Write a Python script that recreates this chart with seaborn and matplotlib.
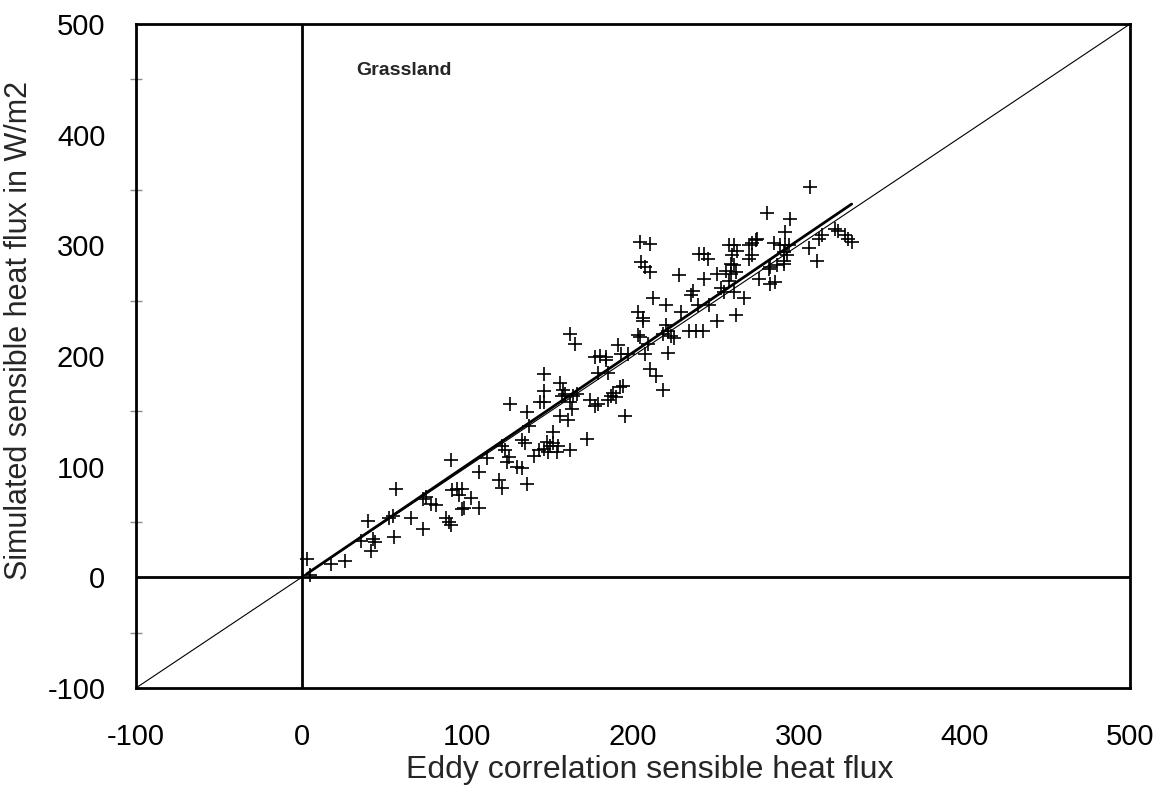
import matplotlib
matplotlib.use("Agg")
import matplotlib.pyplot as plt
from matplotlib.ticker import MultipleLocator
import numpy as np
import seaborn as sns

# Eddy correlation (measured) vs simulated sensible heat flux, W/m2
eddy_flux = [
    3, 5, 18, 26, 36, 43, 44, 42, 40, 53, 55, 56, 57, 66, 73, 73, 75, 78, 81, 87,
    89, 90, 90, 91, 94, 97, 95, 97, 102, 98, 107, 107, 112, 119, 121, 121, 123, 125, 124, 130,
    133, 136, 133, 135, 137, 126, 136, 144, 146, 140, 143, 146, 148, 149, 150, 152, 152, 154, 155, 162,
    146, 146, 156, 158, 157, 159, 162, 164, 166, 163, 156, 161, 162, 165, 172, 174, 177, 179, 185, 187,
    190, 188, 192, 194, 195, 179, 185, 177, 180, 184, 184, 191, 193, 197, 203, 204, 209, 207, 210, 214,
    218, 221, 220, 221, 223, 225, 218, 206, 204, 210, 205, 207, 210, 212, 220, 203, 206, 240, 243, 245,
    228, 243, 236, 235, 251, 256, 259, 262, 258, 253, 255, 261, 267, 239, 246, 229, 234, 238, 242, 251,
    262, 258, 261, 263, 260, 259, 261, 270, 272, 274, 275, 272, 270, 276, 282, 283, 286, 285, 307, 281,
    295, 292, 289, 292, 294, 291, 293, 283, 287, 291, 291, 306, 312, 314, 311, 322, 324, 328, 330, 332,
]
simulated_flux = [
    17, 2, 12, 15, 33, 35, 32, 24, 51, 54, 55, 36, 80, 54, 44, 71, 73, 66, 65, 54,
    50, 47, 106, 79, 80, 80, 74, 62, 72, 63, 63, 95, 108, 88, 81, 119, 115, 109, 104, 100,
    99, 84, 124, 121, 137, 157, 149, 158, 168, 110, 115, 116, 122, 113, 119, 121, 131, 113, 119, 115,
    184, 158, 176, 169, 164, 166, 158, 164, 166, 152, 146, 142, 220, 211, 125, 160, 155, 157, 160, 164,
    163, 167, 172, 173, 146, 185, 185, 199, 200, 199, 196, 210, 202, 202, 219, 217, 211, 202, 188, 182,
    169, 203, 228, 223, 218, 216, 220, 232, 303, 301, 285, 280, 276, 252, 246, 240, 234, 292, 292, 288,
    273, 270, 259, 255, 274, 277, 274, 276, 268, 261, 258, 258, 252, 246, 246, 240, 223, 223, 223, 232,
    237, 300, 300, 295, 291, 283, 282, 300, 302, 305, 306, 291, 288, 270, 279, 265, 267, 302, 353, 329,
    324, 312, 300, 300, 300, 294, 291, 280, 282, 286, 283, 298, 306, 309, 286, 315, 313, 309, 306, 303,
]

axis_ticks = [-100, 0, 100, 200, 300, 400, 500]
site_label = "Grassland"

sns.set_theme(style="white")
plt.rcParams["font.family"] = ["Liberation Sans", "DejaVu Sans"]
plt.rcParams["axes.unicode_minus"] = False

fig = plt.figure(figsize=(11.61, 7.95), dpi=100)
ax = fig.add_axes([0.1171, 0.1346, 0.8562, 0.8352])

# 1:1 reference line
sns.lineplot(x=[-100, 500], y=[-100, 500], ax=ax, color="black", lw=0.8, zorder=1)
# zero axes
ax.axhline(0, color="black", lw=2, zorder=1)
ax.axvline(0, color="black", lw=2, zorder=1)

# least-squares fit through the origin, drawn over the measured range
xs = np.asarray(eddy_flux, dtype=float)
ys = np.asarray(simulated_flux, dtype=float)
slope = float(np.sum(xs * ys) / np.sum(xs * xs))
fit_x = np.array([xs.min(), xs.max()])
sns.lineplot(x=fit_x, y=slope * fit_x, ax=ax, color="black", lw=2, zorder=2)

sns.scatterplot(x=eddy_flux, y=simulated_flux, ax=ax, marker="+", color="black",
                s=110, linewidth=1.2, zorder=3)

ax.set_xlim(-100, 500)
ax.set_ylim(-100, 500)
ax.set_xticks(axis_ticks)
ax.set_yticks(axis_ticks)
ax.yaxis.set_minor_locator(MultipleLocator(50))

for side in ax.spines.values():
    side.set_visible(True)
    side.set_color("black")
    side.set_linewidth(2)

ax.tick_params(axis="both", which="major", direction="inout", length=14, width=1,
               color="#8c8c8c", labelsize=21, labelcolor="black")
ax.tick_params(axis="x", which="major", pad=18)
ax.tick_params(axis="y", which="major", pad=15)
ax.tick_params(axis="y", which="minor", direction="inout", length=8, width=1,
               color="#8c8c8c", left=True)

ax.set_xlabel("Eddy correlation sensible heat flux", fontsize=23)
ax.set_ylabel("Simulated sensible heat flux in W/m2", fontsize=22)
ax.xaxis.set_label_coords(0.517, -0.101)
ax.yaxis.set_label_coords(-0.1026, 0.539)

ax.text(33, 458, site_label, fontsize=14, fontweight="bold", ha="left", va="center")

fig.savefig("out.png", dpi=100)
